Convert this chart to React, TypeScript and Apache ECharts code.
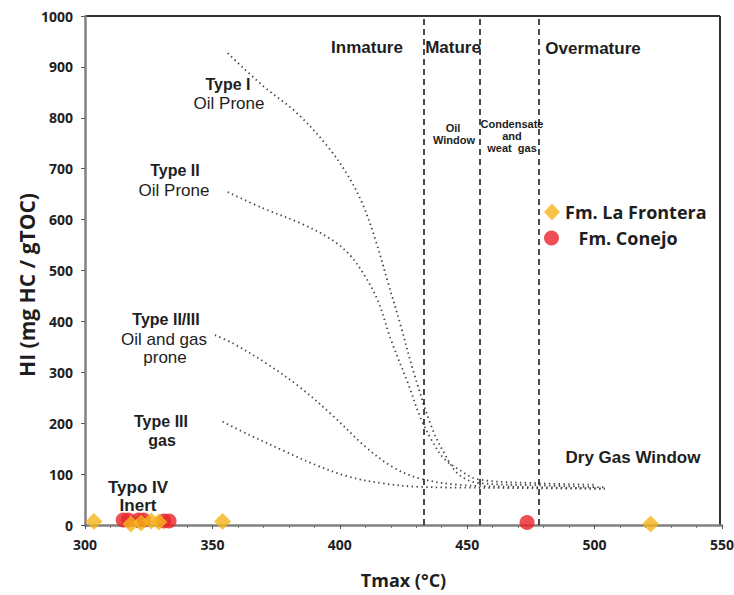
import React, { useEffect, useRef } from "react";
import * as echarts from "echarts";

// Maturity boundaries (Tmax, °C)
const boundaries = [433, 455, 478];

// Kerogen type evolution curves [Tmax, HI]
const typeI = [[356, 927], [370, 862], [383, 810], [395, 745], [403, 688], [409, 630], [414, 560], [419, 475], [424, 390], [429, 300], [436, 193], [441, 141], [446.5, 100], [454, 83], [478, 78], [504, 74]];
const typeII = [[356, 654], [370, 622], [385, 592], [397, 560], [404, 530], [410, 488], [415, 440], [420, 365], [427, 275], [431.5, 213], [436, 167], [441, 130], [446.5, 110], [454, 90], [478, 82], [500, 79]];
const typeIIIII = [[351, 373], [358, 357], [371, 318], [384, 272], [397, 216], [410, 154], [420.4, 115], [431, 92], [446.5, 79], [470, 75], [504, 72]];
const typeIII = [[354, 203], [364.5, 177], [377.5, 147], [390.5, 118], [403.5, 95], [416.5, 82], [431, 75], [460, 73], [504, 71]];

// Samples [Tmax, HI]
const laFrontera = [[303.5, 7], [318, 2], [322, 4], [326, 8], [329, 6], [354, 7], [522, 2]];
const conejo = [[315, 10], [317, 10], [321, 10], [323, 10], [331, 8], [333, 8], [473.5, 5]];

const xTicks = { min: 300, max: 550, interval: 50 };
const yTicks = { min: 0, max: 1000, interval: 100 };

const ARIAL = "'Liberation Sans', Arial, sans-serif";
const OPEN = "'Open Sans', sans-serif";
const INK = "#1e1e1e";

function txt(x: number, y: number, text: string, size: number, weight: string = "bold", font: string = ARIAL) {
  return {
    type: "text",
    x,
    y,
    silent: true,
    style: {
      text,
      fontSize: size,
      fontWeight: weight,
      fontFamily: font,
      fill: INK,
      align: "center",
      verticalAlign: "middle",
    },
  };
}

export default function App() {
  const ref = useRef<HTMLDivElement>(null);
  useEffect(() => {
    document.body.style.margin = "0";
    const chart = echarts.init(ref.current!, null, { renderer: "svg" });
    const curveStyle = { color: "#444", width: 1.8, type: [1.4, 3.4] as any };
    const curve = (name: string, data: number[][], extra: any = {}) => ({
      name,
      type: "line",
      data,
      smooth: 0.35,
      showSymbol: false,
      symbol: "none",
      lineStyle: curveStyle,
      silent: true,
      z: 3,
      ...extra,
    });
    chart.setOption({
      animation: false,
      grid: { left: 85, right: 12, top: 16, bottom: 70, containLabel: false, outerBoundsMode: "none" },
      xAxis: {
        type: "value",
        min: xTicks.min,
        max: xTicks.max,
        interval: xTicks.interval,
        name: "Tmax (°C)",
        nameLocation: "middle",
        nameGap: 46,
        nameTextStyle: { fontFamily: OPEN, fontWeight: "bold", fontSize: 18, color: INK },
        axisLine: { lineStyle: { color: "#808080", width: 2.5 } },
        axisTick: { show: true, length: 4, lineStyle: { color: "#555", width: 1 } },
        minorTick: { show: true, splitNumber: 5, length: 3, lineStyle: { color: "#777" } },
        splitLine: { show: false },
        axisLabel: { fontFamily: OPEN, fontWeight: "bold", fontSize: 14, color: INK, margin: 12 },
      },
      yAxis: {
        type: "value",
        min: yTicks.min,
        max: yTicks.max,
        interval: yTicks.interval,
        axisLine: { show: true, lineStyle: { color: "#808080", width: 2.5 } },
        axisTick: { show: true, length: 4, lineStyle: { color: "#555", width: 1 } },
        splitLine: { show: false },
        axisLabel: {
          fontFamily: OPEN,
          fontWeight: "bold",
          fontSize: 14,
          color: INK,
          margin: 12,
          formatter: (v: number) => String(v),
        },
      },
      legend: [
        {
          data: [{ name: "Fm. La Frontera", icon: "diamond" }],
          left: 544,
          top: 203,
          itemWidth: 16,
          itemHeight: 17,
          itemGap: 0,
          padding: 0,
          selectedMode: false,
          textStyle: { fontFamily: OPEN, fontWeight: "bold", fontSize: 18, color: INK, padding: [0, 0, 0, 0] },
        },
        {
          data: [{ name: "Fm. Conejo", icon: "circle" }],
          left: 544,
          top: 229,
          itemWidth: 16,
          itemHeight: 15,
          itemGap: 0,
          padding: 0,
          selectedMode: false,
          textStyle: { fontFamily: OPEN, fontWeight: "bold", fontSize: 18, color: INK, padding: [0, 0, 0, 14] },
        },
      ],
      series: [
        curve("Type I", typeI),
        curve("Type II", typeII),
        curve("Type II/III", typeIIIII),
        curve("Type III", typeIII, {
          markLine: {
            silent: true,
            symbol: "none",
            label: { show: false },
            lineStyle: { color: "#111", type: [6, 4], width: 1.5 },
            data: boundaries.map((b) => ({ xAxis: b })),
          },
        }),
        {
          name: "Fm. La Frontera",
          type: "scatter",
          symbol: "diamond",
          symbolSize: [17, 17],
          clip: false,
          itemStyle: { color: "#F4B41A" },
          data: laFrontera,
          z: 5,
        },
        {
          name: "Fm. Conejo",
          type: "scatter",
          symbol: "circle",
          symbolSize: 15,
          clip: false,
          itemStyle: { color: "#E8232A" },
          data: conejo,
          z: 4,
        },
      ],
      graphic: [
        { type: "line", silent: true, shape: { x1: 85, y1: 16, x2: 720, y2: 16 }, style: { stroke: "#333", lineWidth: 2 } },
        { type: "line", silent: true, shape: { x1: 720, y1: 16, x2: 720, y2: 525 }, style: { stroke: "#333", lineWidth: 2 } },
        {
          type: "text",
          x: 27,
          y: 285,
          rotation: Math.PI / 2,
          silent: true,
          style: {
            text: "HI (mg HC / gTOC)",
            fontSize: 21,
            fontWeight: "bold",
            fontFamily: OPEN,
            fill: INK,
            align: "center",
            verticalAlign: "middle",
          },
        },
        txt(367, 47, "Inmature", 17),
        txt(453, 47, "Mature", 17),
        txt(593, 48, "Overmature", 17),
        txt(453, 128, "Oil", 11),
        txt(454, 140, "Window", 11),
        txt(512, 124, "Condensate", 11),
        txt(512, 136, "and", 11),
        txt(512, 148, "weat  gas", 11),
        txt(228, 84, "Type I", 16),
        txt(229, 103, "Oil Prone", 17, "normal"),
        txt(175, 170, "Type II", 16),
        txt(174, 190, "Oil Prone", 17, "normal"),
        txt(166, 319, "Type II/III", 16),
        txt(164, 339, "Oil and gas", 17, "normal"),
        txt(165, 357, "prone", 17, "normal"),
        txt(161, 421, "Type III", 16),
        txt(162, 440, "gas", 16),
        txt(138, 487, "Typo IV", 17),
        txt(138, 505, "Inert", 17),
        txt(633, 457, "Dry Gas Window", 17),
      ],
    });
    return () => chart.dispose();
  }, []);
  return <div ref={ref} style={{ width: 734, height: 595 }} />;
}
